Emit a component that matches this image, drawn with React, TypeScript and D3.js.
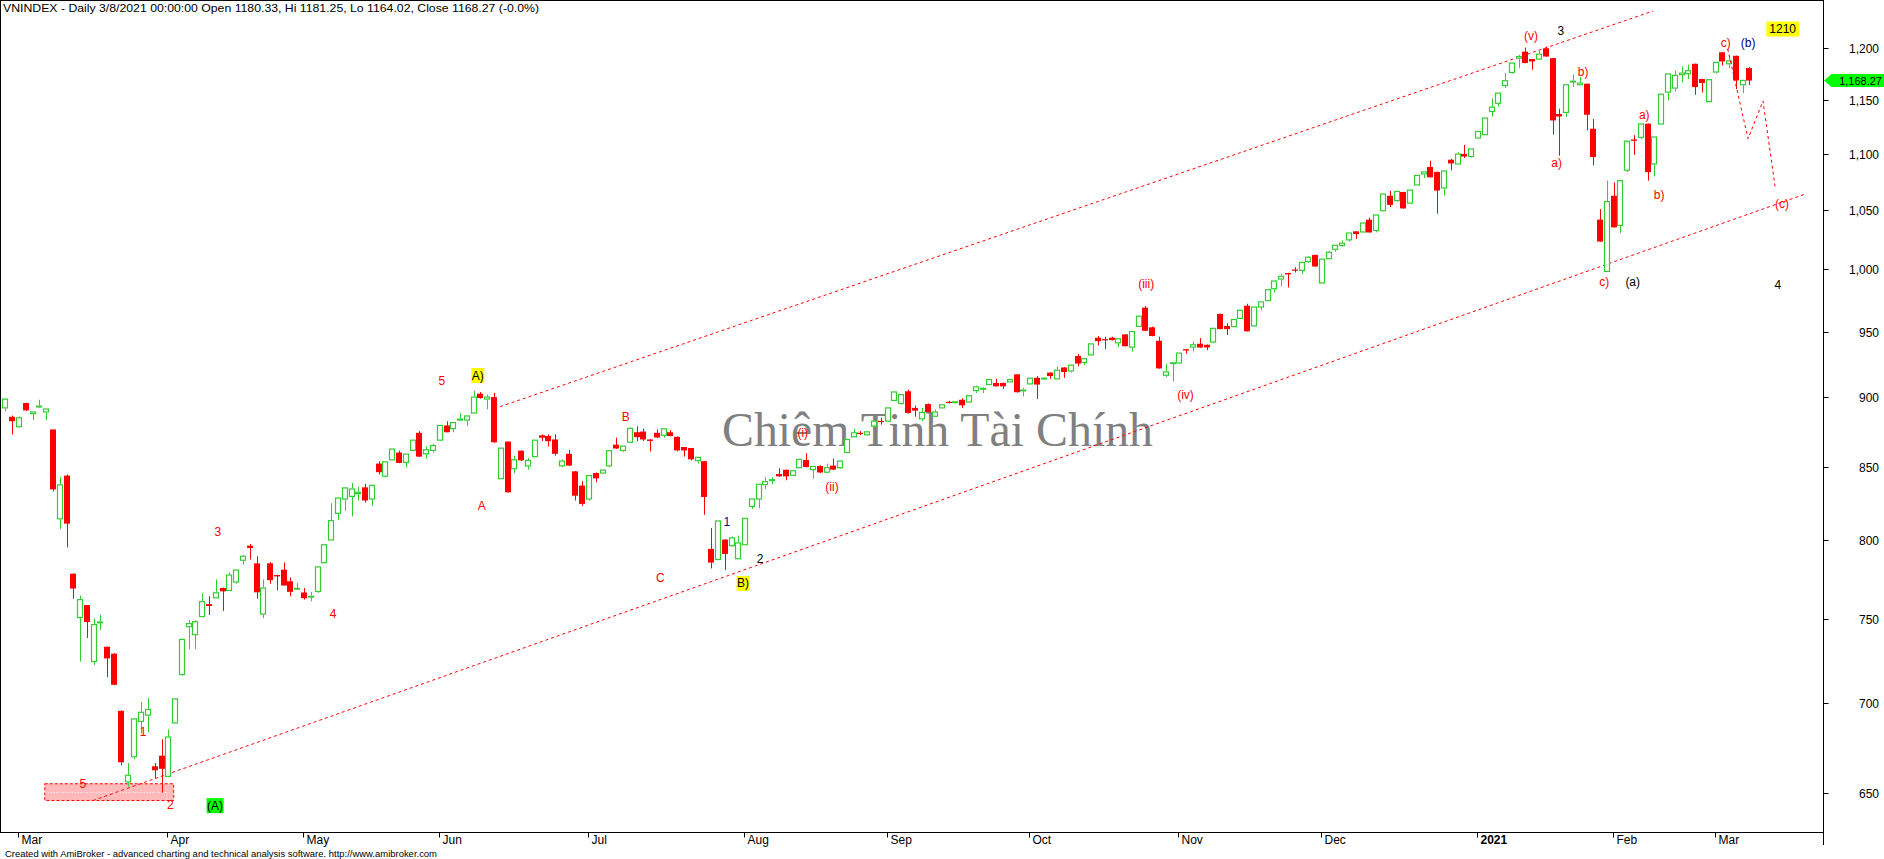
import React, { useEffect } from "react";
import * as d3 from "d3";

// ---------- DATA ----------
const opens = [
  892.2, 885.7, 878.5, 895.8, 888.0, 893.0, 889.2, 876.5, 814.3, 843.8,
  778.3, 750.7, 758.5, 724.0, 747.7, 732.9, 728.7, 695.2, 655.7, 669.4,
  689.2, 692.8, 664.2, 670.0, 658.7, 688.3, 716.3, 745.1, 740.2, 751.3,
  759.1, 763.0, 769.2, 767.7, 773.0, 787.0, 796.5, 785.0, 752.9, 785.0,
  777.5, 780.9, 773.5, 768.6, 766.4, 763.7, 767.0, 785.4, 800.3, 818.0,
  827.7, 829.5, 831.4, 835.7, 827.7, 852.2, 843.4, 854.8, 860.0, 853.1,
  861.5, 874.1, 859.1, 861.5, 868.8, 879.4, 877.1, 883.3, 883.3, 888.5,
  902.7, 898.7, 900.2, 841.7, 867.8, 848.6, 861.3, 850.6, 857.1, 872.3,
  871.8, 869.3, 850.6, 859.1, 846.8, 836.9, 827.7, 845.6, 845.6, 850.6,
  865.6, 861.5, 867.3, 874.5, 875.0, 869.3, 874.1, 872.3, 874.5, 871.2,
  863.9, 863.2, 854.2, 853.9, 794.4, 787.5, 800.5, 796.5, 788.0, 797.1,
  822.7, 827.7, 837.6, 840.8, 844.9, 847.9, 844.0, 849.3, 854.7, 848.0,
  850.5, 846.2, 850.8, 849.3, 860.0, 871.2, 874.1, 872.6, 878.9, 882.7,
  882.5, 897.7, 895.5, 904.5, 892.2, 884.2, 895.0, 886.1, 892.2, 896.7,
  896.3, 898.2, 896.5, 905.0, 906.3, 909.5, 910.7, 910.7, 911.5, 917.2,
  904.9, 910.0, 914.6, 913.9, 918.5, 913.8, 922.4, 919.8, 931.2, 926.2,
  932.0, 945.3, 944.2, 945.3, 941.3, 947.9, 938.0, 954.1, 969.0, 953.4,
  942.9, 916.5, 925.6, 925.8, 936.4, 938.0, 940.6, 939.8, 941.9, 964.0,
  954.5, 954.0, 960.4, 970.5, 954.5, 969.5, 974.6, 984.2, 992.1, 997.0,
  999.9, 999.2, 1006.5, 1012.0, 988.9, 1008.8, 1016.7, 1019.8, 1024.6, 1031.8,
  1031.3, 1041.8, 1032.6, 1049.5, 1062.5, 1058.3, 1065.8, 1056.1, 1072.0, 1081.8,
  1088.0, 1083.6, 1069.3, 1094.5, 1090.7, 1099.8, 1097.4, 1114.2, 1117.3, 1138.9,
  1146.6, 1163.5, 1176.1, 1190.0, 1196.4, 1189.1, 1189.1, 1199.7, 1190.0, 1136.5,
  1138.0, 1167.2, 1164.2, 1165.2, 1122.8, 1041.8, 998.3, 1062.5, 1036.9, 1085.1,
  1112.9, 1114.9, 1127.5, 1090.7, 1127.2, 1157.2, 1161.0, 1173.9, 1174.9, 1184.5,
  1169.7, 1148.1, 1176.5, 1195.8, 1184.5, 1192.3, 1164.2, 1180.33,
];
const highs = [
  899.3, 886.6, 886.0, 896.0, 889.5, 898.2, 891.6, 876.5, 842.9, 844.5,
  778.5, 764.4, 758.5, 750.1, 752.6, 733.0, 729.0, 695.5, 666.0, 691.0,
  700.3, 702.7, 666.0, 679.1, 684.7, 702.5, 737.5, 749.3, 749.0, 765.9,
  764.0, 774.7, 769.5, 779.2, 781.0, 790.6, 797.6, 789.6, 774.7, 785.8,
  777.7, 785.6, 775.9, 772.3, 769.2, 766.8, 783.0, 797.5, 824.9, 828.6,
  835.5, 838.8, 836.0, 838.1, 837.5, 853.8, 853.5, 862.7, 861.3, 859.1,
  869.0, 875.3, 864.2, 866.3, 879.6, 882.4, 881.7, 888.3, 886.5, 905.0,
  904.0, 902.0, 903.2, 863.3, 868.0, 857.8, 861.5, 856.2, 869.0, 873.0,
  873.0, 873.0, 855.2, 862.0, 847.0, 839.9, 844.0, 846.0, 848.0, 861.5,
  870.6, 864.8, 878.0, 878.9, 877.0, 869.5, 876.5, 877.2, 876.0, 871.5,
  864.0, 863.3, 856.8, 854.0, 808.2, 813.0, 800.7, 802.7, 803.1, 815.0,
  828.0, 838.0, 842.8, 842.8, 849.0, 848.0, 847.4, 855.4, 859.6, 850.4,
  851.0, 852.2, 855.7, 854.2, 869.5, 877.0, 875.3, 875.0, 883.0, 885.0,
  892.4, 904.2, 902.2, 905.7, 893.9, 892.2, 895.5, 891.0, 894.7, 897.5,
  897.0, 899.4, 901.4, 908.8, 907.5, 913.5, 913.8, 911.0, 913.8, 917.5,
  907.0, 914.5, 915.9, 915.0, 918.7, 923.2, 922.6, 924.4, 932.8, 929.3,
  940.8, 946.6, 946.1, 946.1, 944.7, 948.0, 950.3, 962.4, 970.4, 954.0,
  946.1, 925.3, 926.2, 933.6, 936.6, 942.4, 945.0, 940.0, 952.8, 964.2,
  956.6, 959.8, 967.1, 972.1, 969.7, 973.8, 983.6, 990.7, 996.2, 997.2,
  1001.9, 1006.0, 1011.2, 1012.2, 1008.7, 1015.5, 1020.3, 1024.1, 1030.6, 1032.0,
  1039.1, 1043.5, 1046.0, 1064.2, 1066.9, 1066.5, 1066.0, 1067.7, 1080.7, 1083.8,
  1093.6, 1083.8, 1084.6, 1095.4, 1101.4, 1108.0, 1104.5, 1120.5, 1133.0, 1151.4,
  1156.4, 1175.5, 1185.4, 1193.2, 1200.3, 1189.3, 1198.1, 1201.3, 1190.2, 1141.4,
  1164.4, 1173.9, 1171.7, 1165.4, 1131.8, 1050.9, 1075.8, 1074.3, 1076.0, 1111.6,
  1116.9, 1127.4, 1127.7, 1115.4, 1155.4, 1174.8, 1178.0, 1181.9, 1183.6, 1184.7,
  1170.0, 1169.3, 1186.1, 1196.0, 1193.2, 1192.5, 1168.6, 1181.25,
];
const lows = [
  889.7, 872.9, 878.0, 890.0, 883.3, 892.2, 883.3, 833.0, 807.5, 795.4,
  762.5, 724.0, 738.2, 722.0, 743.1, 714.8, 710.0, 664.7, 653.1, 668.1,
  682.4, 683.1, 657.9, 649.9, 658.2, 688.0, 715.6, 731.5, 731.5, 751.0,
  752.3, 762.9, 754.8, 767.5, 771.9, 784.3, 787.5, 762.5, 750.5, 771.9,
  767.7, 770.8, 764.0, 768.1, 761.9, 760.9, 766.2, 785.0, 800.0, 813.4,
  819.8, 815.9, 826.7, 825.3, 823.1, 844.6, 842.5, 854.5, 852.5, 849.6,
  861.0, 857.0, 855.7, 860.0, 868.5, 874.5, 874.5, 883.3, 878.9, 888.0,
  899.0, 891.2, 867.0, 841.5, 832.0, 845.4, 854.0, 848.0, 857.0, 868.1,
  864.4, 857.9, 849.6, 850.5, 826.7, 823.0, 826.5, 839.2, 845.0, 849.6,
  862.5, 860.5, 867.0, 868.1, 868.1, 860.8, 870.5, 870.6, 871.5, 861.0,
  857.1, 854.5, 852.3, 817.0, 781.7, 787.0, 780.8, 795.7, 787.7, 797.0,
  820.9, 821.5, 834.6, 837.8, 843.0, 840.6, 843.8, 849.0, 849.5, 841.7,
  845.5, 846.0, 847.8, 848.5, 859.8, 871.0, 872.3, 872.4, 878.0, 880.0,
  882.0, 897.5, 894.5, 888.0, 885.7, 882.5, 889.0, 885.7, 892.0, 895.5,
  895.5, 892.2, 896.3, 903.2, 903.2, 909.3, 908.0, 906.3, 911.3, 903.5,
  900.7, 909.8, 898.7, 913.0, 913.8, 913.5, 914.6, 918.5, 923.3, 924.1,
  931.8, 939.4, 936.4, 943.2, 938.0, 938.5, 934.6, 954.0, 950.5, 946.4,
  921.5, 915.0, 912.0, 925.5, 932.9, 934.6, 937.5, 935.6, 941.0, 951.8,
  947.4, 953.8, 960.2, 950.1, 954.0, 966.8, 974.4, 981.2, 986.1, 985.3,
  997.5, 996.2, 1005.2, 1002.2, 988.7, 1008.6, 1014.7, 1018.9, 1022.9, 1025.5,
  1031.0, 1030.7, 1030.9, 1049.3, 1052.7, 1057.4, 1051.3, 1056.0, 1071.8, 1078.2,
  1078.6, 1046.9, 1062.7, 1085.0, 1090.5, 1096.0, 1096.5, 1113.8, 1117.0, 1134.2,
  1143.5, 1161.0, 1174.9, 1180.4, 1185.0, 1178.7, 1188.9, 1191.4, 1117.3, 1098.1,
  1133.7, 1162.0, 1164.0, 1121.3, 1089.5, 1023.0, 998.0, 1035.0, 1030.4, 1083.4,
  1098.9, 1113.4, 1075.8, 1079.7, 1127.0, 1149.1, 1157.7, 1166.4, 1169.7, 1154.6,
  1156.8, 1148.0, 1174.9, 1182.9, 1180.4, 1160.1, 1156.2, 1164.02,
];
const closes = [
  898.7, 882.5, 885.0, 890.4, 889.2, 893.5, 891.4, 834.3, 837.4, 811.1,
  768.9, 761.9, 748.0, 746.4, 748.0, 725.9, 710.3, 666.4, 659.3, 690.6,
  694.4, 696.0, 662.0, 662.8, 680.4, 702.1, 737.3, 747.0, 748.2, 760.6,
  757.9, 766.2, 767.1, 777.5, 780.7, 789.6, 795.0, 766.5, 769.2, 774.2,
  776.6, 770.8, 766.8, 769.0, 762.8, 764.0, 782.7, 797.1, 813.1, 828.4,
  835.3, 834.6, 832.3, 826.7, 837.1, 846.2, 853.4, 862.5, 852.7, 858.9,
  868.8, 857.1, 862.0, 864.9, 879.4, 874.5, 881.5, 884.0, 886.3, 900.2,
  899.5, 900.2, 867.3, 863.1, 832.3, 854.9, 854.5, 854.5, 868.8, 870.6,
  868.1, 859.1, 854.0, 850.8, 830.0, 824.4, 843.8, 841.9, 847.7, 861.3,
  862.9, 864.6, 877.3, 871.0, 869.3, 868.3, 870.7, 877.0, 871.8, 861.5,
  861.5, 855.2, 856.6, 829.1, 785.5, 812.9, 791.1, 801.6, 798.3, 814.6,
  827.7, 837.8, 839.6, 841.0, 843.3, 843.3, 847.2, 855.2, 849.8, 850.2,
  846.0, 849.3, 848.0, 854.0, 869.3, 874.1, 873.3, 874.8, 882.5, 882.3,
  892.2, 904.0, 902.0, 888.5, 890.2, 888.9, 889.2, 889.2, 894.5, 896.3,
  896.7, 894.1, 901.2, 907.8, 906.6, 913.3, 908.2, 908.2, 913.3, 903.8,
  905.4, 914.3, 909.5, 914.3, 915.9, 920.3, 919.0, 924.2, 925.4, 929.1,
  940.5, 942.6, 943.8, 943.4, 944.5, 938.7, 950.1, 962.2, 950.7, 946.6,
  921.7, 919.1, 926.0, 933.4, 935.4, 939.8, 937.7, 937.7, 952.6, 952.0,
  952.0, 959.6, 966.9, 950.3, 969.5, 973.6, 983.4, 990.5, 994.3, 995.9,
  999.5, 1005.7, 1010.1, 1002.4, 1008.5, 1014.2, 1020.1, 1021.8, 1030.4, 1029.5,
  1038.9, 1030.9, 1045.8, 1064.0, 1054.6, 1066.3, 1051.5, 1067.5, 1080.5, 1083.6,
  1078.8, 1067.1, 1084.4, 1091.2, 1099.6, 1097.4, 1104.3, 1120.3, 1132.8, 1142.9,
  1156.2, 1168.1, 1185.2, 1191.6, 1185.2, 1186.8, 1193.9, 1191.6, 1130.5, 1134.2,
  1164.2, 1167.6, 1165.9, 1135.8, 1096.9, 1023.2, 1057.4, 1035.2, 1075.8, 1111.4,
  1111.7, 1127.2, 1083.4, 1115.2, 1155.2, 1174.6, 1173.2, 1175.5, 1177.8, 1162.0,
  1165.9, 1169.1, 1185.9, 1186.8, 1187.4, 1168.4, 1168.4, 1168.27,
];

// month ticks: label + index of the first trading day of the month
const monthTicks = [
  { label: "Mar", i: 2 }, { label: "Apr", i: 24 }, { label: "May", i: 44 },
  { label: "Jun", i: 64 }, { label: "Jul", i: 86 }, { label: "Aug", i: 109 },
  { label: "Sep", i: 130 }, { label: "Oct", i: 151 }, { label: "Nov", i: 173 },
  { label: "Dec", i: 194 }, { label: "2021", i: 217, year: true },
  { label: "Feb", i: 237 }, { label: "Mar", i: 252 },
];
const priceTicks = [650, 700, 750, 800, 850, 900, 950, 1000, 1050, 1100, 1150, 1200];

// Elliott-wave annotations (anchor: bar index, price)
const waveLabels = [
  { text: "3", i: 31.3, p: 805.2, kind: "red" },
  { text: "4", i: 48.3, p: 752.7, kind: "red" },
  { text: "1", i: 20.3, p: 683.0, kind: "red" },
  { text: "5", i: 11.4, p: 654.4, kind: "red" },
  { text: "2", i: 24.3, p: 643.5, kind: "red" },
  { text: "(A)", i: 30.9, p: 643.0, kind: "green" },
  { text: "5", i: 64.3, p: 912.5, kind: "red" },
  { text: "A)", i: 69.6, p: 916.3, kind: "yellow" },
  { text: "A", i: 70.2, p: 823.2, kind: "red" },
  { text: "B", i: 91.4, p: 885.2, kind: "red" },
  { text: "C", i: 96.5, p: 775.3, kind: "red" },
  { text: "1", i: 106.3, p: 811.9, kind: "navy" },
  { text: "2", i: 111.2, p: 787.5, kind: "black" },
  { text: "B)", i: 108.7, p: 772.1, kind: "yellow" },
  { text: "(i)", i: 117.5, p: 873.6, kind: "red" },
  { text: "(ii)", i: 121.8, p: 836.2, kind: "red" },
  { text: "(iii)", i: 168.1, p: 988.3, kind: "red" },
  { text: "(iv)", i: 173.9, p: 901.9, kind: "red" },
  { text: "(v)", i: 224.8, p: 1211.9, kind: "red" },
  { text: "3", i: 229.2, p: 1216.9, kind: "black" },
  { text: "b)", i: 232.5, p: 1176.8, kind: "red" },
  { text: "a)", i: 228.6, p: 1091.8, kind: "red" },
  { text: "a)", i: 241.5, p: 1135.8, kind: "red" },
  { text: "b)", i: 243.7, p: 1063.4, kind: "red" },
  { text: "c)", i: 235.6, p: 990.0, kind: "red" },
  { text: "(a)", i: 239.8, p: 990.0, kind: "black" },
  { text: "c)", i: 253.5, p: 1204.9, kind: "red" },
  { text: "(b)", i: 256.8, p: 1204.9, kind: "navy" },
  { text: "1210", i: 261.9, p: 1218.9, kind: "yellowWide" },
  { text: "(c)", i: 261.8, p: 1055.5, kind: "red" },
  { text: "4", i: 261.2, p: 987.6, kind: "black" },
];

// trend channel and projection (bar index, price)
const upperChannel = [{ i: 72.9, p: 893.1 }, { i: 242.8, p: 1237.1 }];
const lowerChannel = [{ i: 12.9, p: 645.7 }, { i: 265.3, p: 1064.2 }];
const projection = [
  { i: 253.8, p: 1199 }, { i: 256.8, p: 1113.6 },
  { i: 259.0, p: 1148.8 }, { i: 260.8, p: 1069.6 },
];
const zone = { i0: 5.8, i1: 24.8, iMid: 23.8, pLow: 645.7, pHigh: 654.7, pMid: 650 };

const titleText =
  "VNINDEX - Daily 3/8/2021 00:00:00 Open 1180.33, Hi 1181.25, Lo 1164.02, Close 1168.27 (-0.0%)";
const creditText =
  "Created with AmiBroker - advanced charting and technical analysis software. http://www.amibroker.com";
const watermark = "Chiêm Tinh Tài Chính";

// ---------- STYLE ----------
const SANS = "'Liberation Sans', Arial, Helvetica, sans-serif";
const SERIF = "'Liberation Serif', 'Times New Roman', serif";
const GREEN = "#32cd32";
const RED = "#ff0000";
const PLOT_R = 1823.5;
const PLOT_B = 832.5;

const kindColor: Record<string, string> = {
  red: RED, black: "#000", navy: "#000080", yellow: "#000", yellowWide: "#000", green: "#000",
};
const kindBg: Record<string, string | undefined> = {
  yellow: "#ffff00", yellowWide: "#ffff00", green: "#00ff00",
};

let measureCtx: CanvasRenderingContext2D | null = null;
function textW(t: string, font: string) {
  if (!measureCtx) measureCtx = document.createElement("canvas").getContext("2d");
  if (!measureCtx) return t.length * 7;
  measureCtx.font = font;
  return measureCtx.measureText(t).width;
}

export default function App() {
  useEffect(() => {
    document.body.style.margin = "0";
  }, []);

  const x = d3.scaleLinear().domain([0, 268]).range([5.43, 5.43 + 6.786 * 268]);
  const y = d3.scaleLog().domain([650, 1200]).range([792.5, 48]);
  const line = d3
    .line<{ i: number; p: number }>()
    .x((d) => x(d.i))
    .y((d) => y(d.p));

  const candles = opens.map((o, i) => {
    const c = closes[i];
    const h = Math.max(highs[i], o, c);
    const l = Math.min(lows[i], o, c);
    const px = Math.round(x(i));
    const wx = px + 0.5;
    const up = c >= o;
    const yTop = y(Math.max(o, c));
    const yBot = y(Math.min(o, c));
    const yH = y(h);
    const yL = y(l);
    if (up) {
      const bh = Math.max(yBot - yTop, 0.8);
      return (
        <g key={i}>
          {yTop - yH > 0.3 && <line x1={wx} x2={wx} y1={yH} y2={yTop - 0.5} stroke={GREEN} strokeWidth={1} />}
          {yL - yBot > 0.3 && <line x1={wx} x2={wx} y1={yBot + 0.5} y2={yL} stroke={GREEN} strokeWidth={1} />}
          <rect x={px - 2.5} y={yTop} width={5} height={bh} fill="#fff" stroke={GREEN} strokeWidth={1.2} />
        </g>
      );
    }
    const bh = Math.max(yBot - yTop, 1.2);
    return (
      <g key={i}>
        <line x1={wx} x2={wx} y1={yH} y2={yL} stroke={RED} strokeWidth={1} />
        <rect x={px - 3} y={yTop} width={6} height={bh} fill={RED} />
      </g>
    );
  });

  const labelFont = `12px ${SANS}`;
  const lastClose = closes[closes.length - 1];
  const yc = y(lastClose);

  return (
    <svg
      width={1884}
      height={859}
      style={{ display: "block", position: "absolute", left: 0, top: 0, background: "#fff" }}
      fontFamily={SANS}
    >
      <defs>
        <clipPath id="plotClip">
          <rect x={1} y={1} width={PLOT_R - 1} height={PLOT_B - 1} />
        </clipPath>
      </defs>
      <rect x={0} y={0} width={1884} height={859} fill="#fff" />

      {/* title */}
      <text x={3} y={12} fontSize={11} textLength={536} lengthAdjust="spacingAndGlyphs" fill="#000">
        {titleText}
      </text>

      <g clipPath="url(#plotClip)">
        {/* watermark */}
        <text x={722} y={446} fontFamily={SERIF} fontSize={48} fill="#808080" textLength={431} lengthAdjust="spacingAndGlyphs">
          {watermark}
        </text>

        {/* support zone */}
        <rect
          x={x(zone.i0)}
          y={y(zone.pHigh)}
          width={x(zone.i1) - x(zone.i0)}
          height={y(zone.pLow) - y(zone.pHigh)}
          fill="#ffb9b9"
          stroke={RED}
          strokeWidth={1}
          strokeDasharray="3 2"
        />
        <line x1={x(zone.i0)} x2={x(zone.iMid)} y1={y(zone.pMid)} y2={y(zone.pMid)} stroke="#fff" strokeDasharray="1 2" />
        <line x1={x(zone.iMid)} x2={x(zone.iMid)} y1={y(zone.pMid)} y2={y(zone.pLow)} stroke="#fff" strokeDasharray="1 2" />

        {/* channel lines */}
        <path d={line(upperChannel) || ""} fill="none" stroke={RED} strokeWidth={1} strokeDasharray="3 3" />
        <path d={line(lowerChannel) || ""} fill="none" stroke={RED} strokeWidth={1} strokeDasharray="3 3" />

        {/* candles */}
        {candles}

        {/* projection */}
        <path d={line(projection) || ""} fill="none" stroke={RED} strokeWidth={1} strokeDasharray="3 3" />

        {/* wave labels */}
        {waveLabels.map((d, k) => {
          const cx = x(d.i);
          const cy = y(d.p);
          const bg = kindBg[d.kind];
          const w = textW(d.text, labelFont);
          const pad = d.kind === "yellowWide" ? 3 : 0.5;
          return (
            <g key={k}>
              {bg && (
                <rect x={cx - w / 2 - pad} y={cy - 7.5} width={w + 2 * pad} height={15} fill={bg} />
              )}
              <text x={cx} y={cy} fontSize={12} fill={kindColor[d.kind]} textAnchor="middle" dominantBaseline="central">
                {d.text}
              </text>
            </g>
          );
        })}
      </g>

      {/* frame */}
      <line x1={0} x2={PLOT_R} y1={0.5} y2={0.5} stroke="#000" />
      <line x1={0.5} x2={0.5} y1={0} y2={PLOT_B} stroke="#000" />
      <line x1={0} x2={PLOT_R} y1={PLOT_B} y2={PLOT_B} stroke="#000" />
      <line x1={PLOT_R} x2={PLOT_R} y1={0} y2={845} stroke="#000" />

      {/* y axis */}
      {priceTicks.map((p) => {
        const yy = Math.round(y(p)) + 0.5;
        return (
          <g key={p}>
            <line x1={PLOT_R} x2={PLOT_R + 5} y1={yy} y2={yy} stroke="#000" />
            <text x={1879} y={yy} fontSize={12} textAnchor="end" dominantBaseline="central" fill="#000">
              {d3.format(",")(p)}
            </text>
          </g>
        );
      })}

      {/* last price marker */}
      <polygon
        points={`${PLOT_R + 0.5},${yc} ${PLOT_R + 8},${yc - 6.5} 1884,${yc - 6.5} 1884,${yc + 6.5} ${PLOT_R + 8},${yc + 6.5}`}
        fill="#00ff00"
      />
      <text x={1882} y={yc} fontSize={11} textAnchor="end" dominantBaseline="central" fill="#000">
        {d3.format(",.2f")(lastClose)}
      </text>

      {/* x axis */}
      {monthTicks.map((t, k) => {
        const tx = Math.round(x(t.i)) - 0.5;
        return (
          <g key={k}>
            <line x1={tx} x2={tx} y1={PLOT_B} y2={PLOT_B + 5} stroke="#000" />
            <text x={tx + 3} y={844} fontSize={12} fontWeight={t.year ? "bold" : "normal"} fill="#000">
              {t.label}
            </text>
          </g>
        );
      })}

      {/* credit */}
      <text x={5} y={857} fontSize={9.5} textLength={432} lengthAdjust="spacingAndGlyphs" fill="#000">
        {creditText}
      </text>
    </svg>
  );
}
